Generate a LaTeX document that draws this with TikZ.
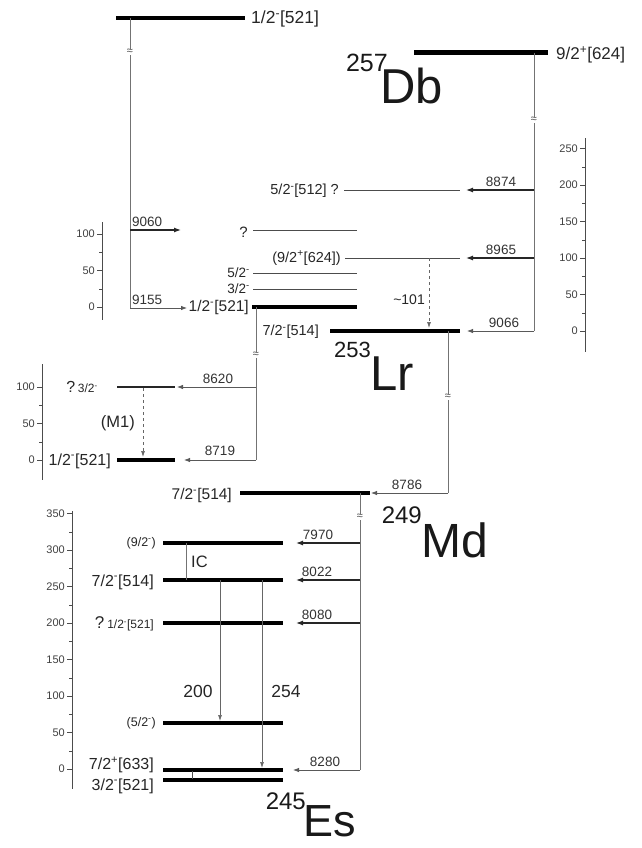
\documentclass[tikz,border=0pt]{standalone}
\usepackage{fontspec}
\setmainfont{Liberation Sans}
\usetikzlibrary{arrows.meta}
\newcommand\supm{\textsuperscript{-}}
\newcommand\supp{\textsuperscript{+}}
\newcommand\fs[1]{\fontsize{#1}{#1}\selectfont}
\begin{document}
\begin{tikzpicture}[x=1pt,y=-1pt,
  lev/.style={line width=4.5pt},
  mlev/.style={line width=3.2pt},
  tlev/.style={line width=1pt, black!70},
  vl/.style={line width=0.7pt, black!55},
  decay/.style={line width=1.2pt, black!85, -{Latex[length=7pt,width=5pt]}},
  tdecay/.style={line width=0.8pt, black!65, -{Latex[length=6pt,width=4.5pt]}},
  gam/.style={line width=0.7pt, black!60, -{Latex[length=6pt,width=4pt]}},
  dgam/.style={gam, dashed},
  lab/.style={font=\fs{14.5}, inner sep=1pt, text=black!85},
  en/.style={font=\fs{13.5}, inner sep=1pt, text=black!80},
  sc/.style={font=\fs{11}, inner sep=1pt, text=black!75},
  brk/.style={fill=white, inner sep=0pt, font=\fs{11}, text=black!70},
  nuc/.style={inner sep=0pt, text depth=0pt, text=black!90},
  ax/.style={line width=0.7pt, black!70},
  tk/.style={line width=0.5pt, black!70}]
\useasboundingbox (0,0) rectangle (642,848);

% ---------- top 1/2- level ----------
\coordinate (t1) at (116,18); \coordinate (t2) at (245,18);
\draw[lev] (t1) -- (t2);
\node[lab, font=\fs{17.5}, anchor=west] (tlab) at (250,19) {1/2\supm[521]};
\coordinate (tv1) at (130,18); \coordinate (tv2) at (130,308);
\coordinate (a9060) at (130,230); \coordinate (a9060e) at (181,230);
\coordinate (a9155e) at (187,308);
\draw[vl] (tv1) -- (tv2);
\node[brk] (b1) at (130,52) {≈};
\draw[decay] (a9060) -- (a9060e);
\node[en, anchor=south west] (e9060) at (131,228) {9060};
\draw[tdecay] (tv2) -- (a9155e);
\node[en, anchor=south west] (e9155) at (131,306) {9155};

% ---------- Lr left scale ----------
\coordinate (s1a) at (102,222); \coordinate (s1b) at (102,320);
\draw[ax] (s1a) -- (s1b);
\foreach \v/\t in {0/0,50/50,100/100} {
  \draw[tk] (97,307-0.73*\v) -- (102,307-0.73*\v);
  \node[sc, anchor=east] at (96,307-0.73*\v) {\t};}
\foreach \v in {25,75} \draw[tk] (99,307-0.73*\v) -- (102,307-0.73*\v);

% ---------- Lr left levels ----------
\draw[tlev] (253,230) -- (357,230);
\node[lab, font=\fs{15}, anchor=east] (q1) at (249,232) {?};
\draw[tlev] (253,273) -- (357,273);
\node[lab, font=\fs{13.5}, anchor=east] (l52) at (251,273) {5/2\supm};
\draw[tlev] (253,289) -- (357,289);
\node[lab, font=\fs{13.5}, anchor=east] (l32) at (251,289) {3/2\supm};
\coordinate (lg1) at (252,307); \coordinate (lg2) at (357,307);
\draw[lev] (lg1) -- (lg2);
\node[lab, font=\fs{15.5}, anchor=east] (l12) at (250,307) {1/2\supm[521]};

% ---------- Db ----------
\coordinate (d1) at (414,53); \coordinate (d2) at (548,53);
\draw[lev, line width=5pt] (d1) -- (d2);
\node[lab, font=\fs{17}, anchor=west] (dlab) at (555,55) {9/2\supp[624]};
\node[nuc, font=\fs{25}, anchor=south east] (m257) at (388,72) {257};
\node[nuc, font=\fs{49}, anchor=base west] (Db) at (380,103) {Db};
\coordinate (dv1) at (534,53); \coordinate (dv2) at (534,331);
\draw[vl] (dv1) -- (dv2);
\node[brk] (b2) at (534,120) {≈};
\coordinate (d190) at (534,190); \coordinate (d258) at (534,258);
\draw[decay] (d190) -- (466,190);
\node[en, anchor=south] (e8874) at (501,188) {8874};
\draw[decay] (d258) -- (466,258);
\node[en, anchor=south] (e8965) at (501,256) {8965};
\draw[tdecay] (dv2) -- (467,331);
\node[en, anchor=south] (e9066) at (504,329) {9066};

% ---------- right scale ----------
\coordinate (s2a) at (585,138); \coordinate (s2b) at (585,352);
\draw[ax] (s2a) -- (s2b);
\foreach \v in {0,50,100,150,200,250} {
  \draw[tk] (580,331-0.73*\v) -- (585,331-0.73*\v);
  \node[sc, anchor=east] at (579,331-0.73*\v) {\v};}
\foreach \v in {25,75,125,175,225} \draw[tk] (582,331-0.73*\v) -- (585,331-0.73*\v);

% ---------- Lr right levels ----------
\draw[tlev] (344,190) -- (460,190);
\node[lab, anchor=east] (l512) at (340,191) {5/2\supm[512] ?};
\coordinate (n9a) at (345,258); \coordinate (n9b) at (460,258);
\draw[tlev] (n9a) -- (n9b);
\node[lab, anchor=east] (l92) at (342,258) {(9/2\supp[624])};
\coordinate (lr1) at (330,331); \coordinate (lr2) at (460,331);
\draw[lev] (lr1) -- (lr2);
\node[lab, anchor=east] (l72) at (320,332) {7/2\supm[514]};
\draw[dgam] (429,258) -- (429,328);
\node[lab, font=\fs{14}, anchor=east] (g101) at (426,300) {\char"007E 101};
\node[nuc, font=\fs{22}, anchor=south east] (m253) at (371,358) {253};
\node[nuc, font=\fs{49}, anchor=base west] (Lr) at (370,390) {Lr};

% ---------- Lr lower vertical & 8620/8719 ----------
\coordinate (lv1) at (256,307); \coordinate (lv2) at (256,460);
\draw[vl] (lv1) -- (lv2);
\node[brk] (b3) at (256,355) {≈};
\draw[tdecay] (256,387) -- (177,387);
\node[en, anchor=south] (e8620) at (218,385) {8620};
\draw[tdecay] (lv2) -- (184,460);
\node[en, anchor=south] (e8719) at (220,457) {8719};

% ---------- No scale & levels ----------
\draw[ax] (42,364) -- (42,480);
\foreach \v in {0,50,100} {
  \draw[tk] (37,460-0.73*\v) -- (42,460-0.73*\v);
  \node[sc, anchor=east] at (36,460-0.73*\v) {\v};}
\foreach \v in {25,75} \draw[tk] (39,460-0.73*\v) -- (42,460-0.73*\v);
\draw[line width=1.6pt, black!85] (117,387) -- (175,387);
\node[lab, font=\fs{16}, anchor=east] (q32) at (99,387) {?\,{\fs{12}3/2\supm}};
\draw[lev] (117,460) -- (175,460);
\node[lab, font=\fs{16}, anchor=east] (n12) at (112,461) {1/2\supm[521]};
\draw[dgam] (143,388) -- (143,457);
\node[lab, font=\fs{16.5}, anchor=east] (m1) at (136,423) {(M1)};

% ---------- Lr 7/2 vertical & 8786 ----------
\coordinate (lv3) at (448,331); \coordinate (lv4) at (448,493);
\draw[vl] (lv3) -- (lv4);
\node[brk] (b4) at (448,397) {≈};
\draw[tdecay] (lv4) -- (371,493);
\node[en, anchor=south] (e8786) at (407,491) {8786};

% ---------- Md ----------
\coordinate (md1) at (240,493); \coordinate (md2) at (370,493);
\draw[lev] (md1) -- (md2);
\node[lab, font=\fs{15.5}, anchor=east] (mdlab) at (233,495) {7/2\supm[514]};
\node[nuc, font=\fs{24}, anchor=south east] (m249) at (422,524) {249};
\node[nuc, font=\fs{48}, anchor=base west] (Md) at (421,557) {Md};
\coordinate (mv1) at (360,493); \coordinate (mv2) at (360,770);
\draw[vl] (mv1) -- (mv2);
\node[brk] (b5) at (360,517) {≈};

% ---------- Es scale ----------
\draw[ax] (72,511) -- (72,789);
\foreach \v in {0,50,...,350} {
  \draw[tk] (67,769-0.73*\v) -- (72,769-0.73*\v);
  \node[sc, anchor=east] at (66,769-0.73*\v) {\v};}
\foreach \v in {25,75,...,325} \draw[tk] (69,769-0.73*\v) -- (72,769-0.73*\v);

% ---------- Es levels ----------
\draw[mlev] (163,543) -- (283,543);
\node[lab, font=\fs{12.5}, anchor=east] (e92) at (157,543) {(9/2\supm)};
\draw[mlev] (163,580) -- (283,580);
\node[lab, font=\fs{16}, anchor=east] (e72) at (155,582) {7/2\supm[514]};
\draw[mlev] (163,623) -- (283,623);
\node[lab, font=\fs{17}, anchor=east] (e12) at (155,624) {?\,{\fs{12}1/2\supm[521]}};
\draw[mlev] (163,723) -- (283,723);
\node[lab, font=\fs{12.5}, anchor=east] (e52) at (157,723) {(5/2\supm)};
\draw[lev] (163,770) -- (283,770);
\node[lab, font=\fs{16}, anchor=east] (e633) at (155,765) {7/2\supp[633]};
\draw[mlev] (163,780) -- (283,780);
\node[lab, font=\fs{16}, anchor=east] (e321) at (155,786) {3/2\supm[521]};
\draw[tk] (192,771) -- (192,779);
\draw[vl] (186,543) -- (186,580);
\node[lab, font=\fs{16.5}, anchor=west] (ic) at (190,562) {IC};
\draw[gam] (220,580) -- (220,721);
\node[lab, font=\fs{17.5}] (g200) at (198,691) {200};
\draw[gam] (262,580) -- (262,768);
\node[lab, font=\fs{17.5}] (g254) at (286,691) {254};
\draw[decay] (360,543) -- (296,543);
\node[en, anchor=south] (e7970) at (318,541) {7970};
\draw[decay] (360,580) -- (296,580);
\node[en, anchor=south] (e8022) at (317,578) {8022};
\draw[decay] (360,623) -- (296,623);
\node[en, anchor=south] (e8080) at (317,621) {8080};
\draw[tdecay] (mv2) -- (293,770);
\node[en, anchor=south] (e8280) at (325,768) {8280};
\node[nuc, font=\fs{24}, anchor=south east] (m245) at (306,810) {245};
\node[nuc, font=\fs{45}, anchor=base west] (Es) at (303,836) {Es};
\end{tikzpicture}
\end{document}
